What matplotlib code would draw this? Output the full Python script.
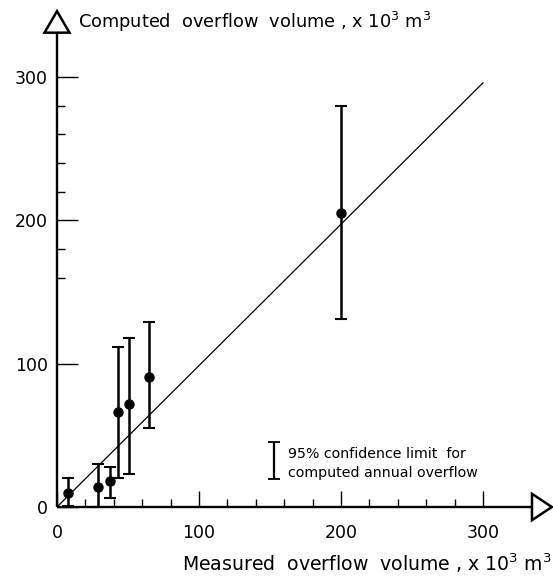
import matplotlib
matplotlib.use("Agg")
import matplotlib.pyplot as plt
from matplotlib.patches import Polygon

# ---- data ----
measured = [8, 29, 37, 43, 51, 65, 200]
computed = [10, 14, 18, 66, 72, 91, 205]
ci_low = [1, 0, 6, 20, 23, 55, 131]
ci_high = [20, 30, 28, 112, 118, 129, 280]
fit_x = [0, 300]
fit_y = [0, 296]
major_ticks = [0, 100, 200, 300]
major_labels = ["0", "100", "200", "300"]
x_minor = [20, 40, 60, 80, 120, 140, 160, 180, 220, 240, 260, 280]
y_minor = [160, 180, 220, 240, 260, 280]
legend_bar = [19.5, 45.5]  # vertical extent of legend symbol

W, H = 553, 578
fig = plt.figure(figsize=(W / 100, H / 100), dpi=100)
x0, y0 = 57, 507
sx, sy = 1.42, 1.433
xmax, ymax = 350, 350
ax = fig.add_axes([x0 / W, (H - y0) / H, xmax * sx / W, ymax * sy / H])
ax.set_xlim(0, xmax)
ax.set_ylim(0, ymax)
ax.patch.set_alpha(0)

for s in ["top", "right"]:
    ax.spines[s].set_visible(False)
ax.spines["left"].set_position(("data", 0))
ax.spines["bottom"].set_position(("data", 0))
ax.spines["left"].set_bounds(0, 331)
ax.spines["bottom"].set_bounds(0, 334.5)
for s in ["left", "bottom"]:
    ax.spines[s].set_linewidth(1.7)
    ax.spines[s].set_capstyle("butt")

ax.set_xticks(major_ticks)
ax.set_xticklabels(major_labels)
ax.set_yticks(major_ticks)
ax.set_yticklabels(major_labels)
ax.set_xticks(x_minor, minor=True)
ax.set_yticks(y_minor, minor=True)
ax.tick_params(axis="x", which="major", direction="in", length=11.5, width=1.0,
               pad=12.5, labelsize=12.5)
ax.tick_params(axis="y", which="major", direction="in", length=15, width=1.0,
               pad=6.5, labelsize=12.5)
ax.tick_params(axis="x", which="minor", direction="in", length=6, width=1.0)
ax.tick_params(axis="y", which="minor", direction="in", length=6, width=1.0)

# arrow heads
tri_y = Polygon([[-8.8, 331], [8.8, 331], [0, 346]], closed=True, facecolor="white",
                edgecolor="black", lw=1.8, clip_on=False, zorder=5)
tri_x = Polygon([[334.5, -9.2], [334.5, 9.2], [348.5, 0]], closed=True, facecolor="white",
                edgecolor="black", lw=1.8, clip_on=False, zorder=5)
ax.add_patch(tri_y)
ax.add_patch(tri_x)

# fitted line
ax.plot(fit_x, fit_y, color="black", lw=0.9, zorder=3)

# error bars and points
yerr = [[c - lo for c, lo in zip(computed, ci_low)],
        [hi - c for c, hi in zip(computed, ci_high)]]
ax.errorbar(measured, computed, yerr=yerr, fmt="o", color="black", ms=6.5,
            elinewidth=1.8, capsize=4.5, capthick=1.5, zorder=4, clip_on=False)

# legend symbol
ax.errorbar([152.8], [sum(legend_bar) / 2], yerr=[[(legend_bar[1] - legend_bar[0]) / 2]],
            fmt="none", ecolor="black", elinewidth=1.6, capsize=4.5, capthick=1.3)
ax.text(162.5, 37, "95% confidence limit  for", fontsize=10.2, va="center", ha="left")
ax.text(162.5, 23.5, "computed annual overflow", fontsize=10.2, va="center", ha="left")

# axis titles
fig.text(78 / W, (H - 28) / H, "Computed  overflow  volume , x 10$^3$ m$^3$",
         fontsize=12.8, ha="left", va="baseline")
fig.text(182 / W, (H - 571) / H, "Measured  overflow  volume , x 10$^3$ m$^3$",
         fontsize=13.6, ha="left", va="baseline")

fig.savefig("out.png", dpi=100)
